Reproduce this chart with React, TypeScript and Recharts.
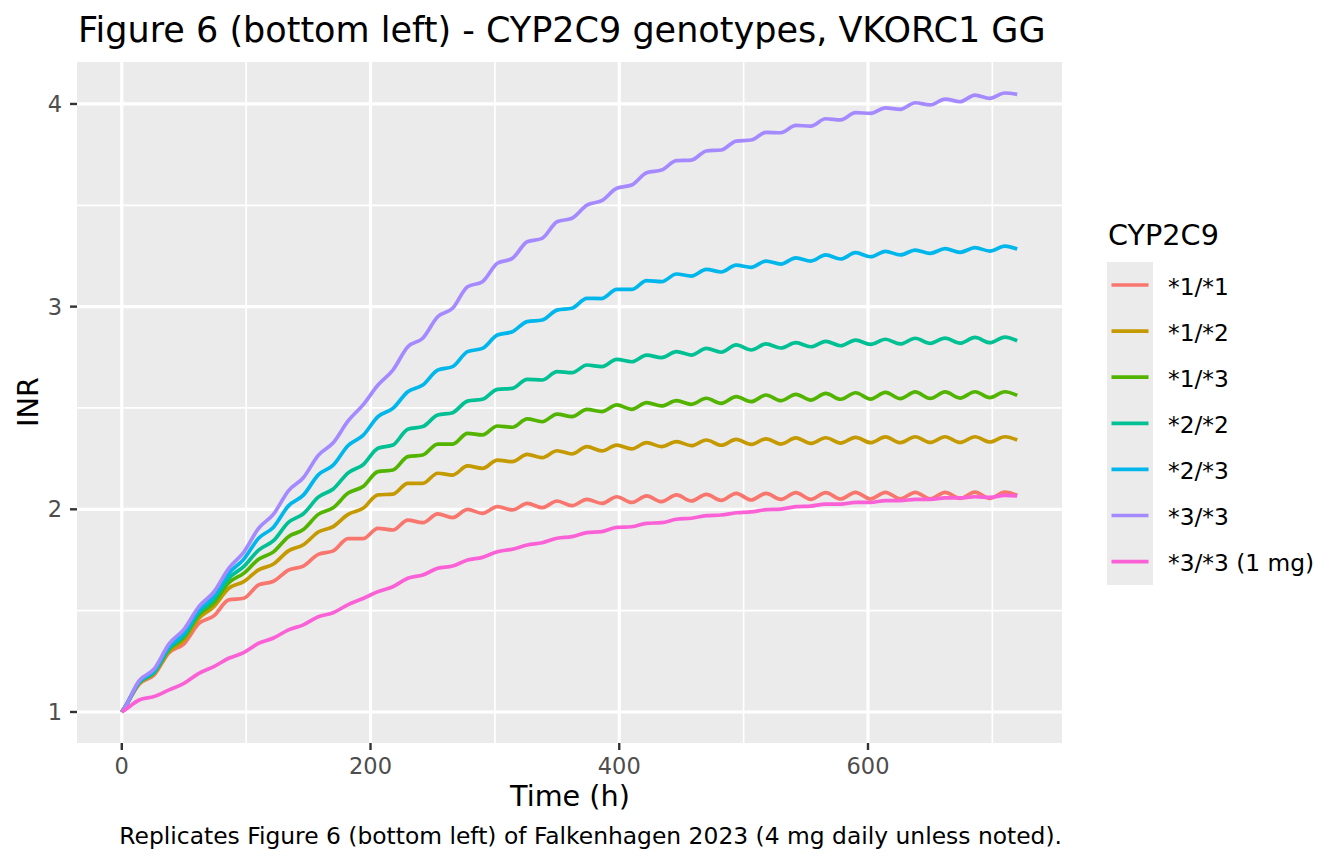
import React from 'react';
import { LineChart, Line, XAxis, YAxis, CartesianGrid } from 'recharts';

// sample times (h): start, then every 12 h (dose trough / mid-interval), end
const hours = [
  0, 2, 14, 26, 38, 50, 62, 74, 86, 98, 110, 122, 134, 146, 158, 170, 182, 194, 206, 218,
  230, 242, 254, 266, 278, 290, 302, 314, 326, 338, 350, 362, 374, 386, 398, 410, 422, 434, 446, 458,
  470, 482, 494, 506, 518, 530, 542, 554, 566, 578, 590, 602, 614, 626, 638, 650, 662, 674, 686, 698,
  710, 720,
];

const inr11 = [
  1.0, 1.018, 1.137, 1.183, 1.293, 1.336, 1.437, 1.474, 1.553, 1.561, 1.627, 1.645, 1.7, 1.72, 1.778, 1.795, 1.855, 1.855, 1.906, 1.898,
  1.947, 1.934, 1.977, 1.959, 2.0, 1.98, 2.013, 1.997, 2.029, 2.008, 2.041, 2.018, 2.049, 2.029, 2.062, 2.034, 2.066, 2.038, 2.071, 2.041,
  2.074, 2.044, 2.079, 2.046, 2.079, 2.049, 2.082, 2.049, 2.082, 2.051, 2.084, 2.051, 2.084, 2.052, 2.084, 2.052, 2.084, 2.054, 2.085, 2.054,
  2.085, 2.069,
];

const inr12 = [
  1.0, 1.018, 1.141, 1.191, 1.298, 1.355, 1.462, 1.52, 1.61, 1.643, 1.701, 1.73, 1.795, 1.825, 1.888, 1.915, 1.975, 2.005, 2.071, 2.075,
  2.128, 2.128, 2.178, 2.169, 2.214, 2.202, 2.243, 2.235, 2.271, 2.255, 2.289, 2.273, 2.309, 2.288, 2.317, 2.298, 2.329, 2.309, 2.334, 2.314,
  2.342, 2.316, 2.345, 2.32, 2.348, 2.322, 2.352, 2.325, 2.353, 2.327, 2.355, 2.329, 2.357, 2.329, 2.358, 2.33, 2.358, 2.33, 2.358, 2.332,
  2.358, 2.342,
];

const inr13 = [
  1.0, 1.018, 1.145, 1.194, 1.309, 1.368, 1.479, 1.539, 1.638, 1.684, 1.753, 1.79, 1.865, 1.9, 1.975, 2.008, 2.08, 2.112, 2.186, 2.194,
  2.26, 2.268, 2.322, 2.322, 2.375, 2.367, 2.411, 2.405, 2.446, 2.432, 2.47, 2.457, 2.493, 2.482, 2.515, 2.493, 2.526, 2.51, 2.536, 2.518,
  2.548, 2.523, 2.556, 2.531, 2.564, 2.536, 2.567, 2.539, 2.572, 2.543, 2.575, 2.544, 2.577, 2.546, 2.579, 2.547, 2.579, 2.549, 2.58, 2.551,
  2.58, 2.562,
];

const inr22 = [
  1.0, 1.018, 1.146, 1.197, 1.314, 1.377, 1.49, 1.556, 1.66, 1.717, 1.799, 1.845, 1.935, 1.978, 2.06, 2.1, 2.18, 2.22, 2.301, 2.317,
  2.395, 2.408, 2.465, 2.477, 2.534, 2.543, 2.592, 2.597, 2.641, 2.638, 2.679, 2.674, 2.712, 2.704, 2.74, 2.728, 2.761, 2.748, 2.778, 2.761,
  2.794, 2.775, 2.811, 2.786, 2.816, 2.796, 2.822, 2.802, 2.829, 2.807, 2.835, 2.814, 2.839, 2.816, 2.844, 2.819, 2.845, 2.82, 2.848, 2.822,
  2.85, 2.832,
];

const inr23 = [
  1.0, 1.018, 1.15, 1.202, 1.322, 1.388, 1.503, 1.572, 1.684, 1.753, 1.857, 1.912, 2.017, 2.07, 2.17, 2.218, 2.315, 2.365, 2.457, 2.498,
  2.58, 2.613, 2.687, 2.704, 2.778, 2.794, 2.86, 2.876, 2.926, 2.934, 2.983, 2.992, 3.041, 3.04, 3.085, 3.085, 3.128, 3.123, 3.161, 3.151,
  3.184, 3.171, 3.205, 3.194, 3.225, 3.21, 3.241, 3.225, 3.255, 3.235, 3.266, 3.246, 3.273, 3.255, 3.279, 3.263, 3.286, 3.268, 3.291, 3.274,
  3.299, 3.284,
];

const inr33 = [
  1.0, 1.018, 1.155, 1.212, 1.336, 1.408, 1.52, 1.592, 1.709, 1.788, 1.906, 1.976, 2.091, 2.156, 2.266, 2.328, 2.436, 2.515, 2.613, 2.687,
  2.802, 2.844, 2.95, 2.992, 3.098, 3.123, 3.214, 3.238, 3.32, 3.337, 3.419, 3.436, 3.501, 3.523, 3.584, 3.6, 3.661, 3.674, 3.72, 3.723,
  3.768, 3.773, 3.817, 3.822, 3.86, 3.858, 3.894, 3.891, 3.927, 3.921, 3.957, 3.954, 3.981, 3.973, 4.006, 3.995, 4.024, 4.011, 4.044, 4.028,
  4.054, 4.047,
];

const inr33low = [
  1.0, 1.008, 1.059, 1.076, 1.109, 1.141, 1.191, 1.224, 1.265, 1.293, 1.339, 1.365, 1.405, 1.43, 1.47, 1.49, 1.53, 1.56, 1.594, 1.618,
  1.66, 1.676, 1.709, 1.72, 1.75, 1.763, 1.791, 1.803, 1.824, 1.835, 1.857, 1.865, 1.885, 1.89, 1.911, 1.914, 1.931, 1.934, 1.951, 1.956,
  1.969, 1.972, 1.983, 1.987, 1.998, 2.001, 2.013, 2.016, 2.026, 2.026, 2.034, 2.034, 2.043, 2.043, 2.049, 2.049, 2.056, 2.056, 2.062, 2.059,
  2.069, 2.066,
];

const genotypes = ['*1/*1', '*1/*2', '*1/*3', '*2/*2', '*2/*3', '*3/*3', '*3/*3 (1 mg)'];
const seriesKeys = ['g11', 'g12', 'g13', 'g22', 'g23', 'g33', 'g33low'];
const seriesValues = [inr11, inr12, inr13, inr22, inr23, inr33, inr33low];
const colors = ['#F8766D', '#C49A00', '#53B400', '#00C094', '#00B6EB', '#A58AFF', '#FB61D7'];

const xTicks = [0, 200, 400, 600];
const xMinor = [100, 300, 500, 700];
const yTicks = [1, 2, 3, 4];
const yMinor = [1.5, 2.5, 3.5];

const rows = hours.map((t, i) => {
  const row: Record<string, number> = { t };
  seriesKeys.forEach((k, j) => {
    row[k] = seriesValues[j][i];
  });
  return row;
});

const FONT = '"DejaVu Sans", Verdana, sans-serif';
const W = 1344;
const H = 864;

export default function App() {
  const tickStyle = { fill: '#4D4D4D', fontSize: 22.5, fontFamily: FONT };
  return (
    <div style={{ position: 'absolute', left: 0, top: 0, width: W, height: H, background: '#fff' }}>
      <LineChart
        width={W}
        height={H}
        data={rows}
        margin={{ top: 62, right: 282, bottom: 71, left: 7 }}
      >
        <CartesianGrid
          fill="#EBEBEB"
          stroke="#FFFFFF"
          strokeWidth={1.7}
          horizontalValues={yMinor}
          verticalValues={xMinor}
        />
        <CartesianGrid
          stroke="#FFFFFF"
          strokeWidth={3.2}
          horizontalValues={yTicks}
          verticalValues={xTicks}
        />
        <XAxis
          type="number"
          dataKey="t"
          domain={[-36, 756]}
          ticks={xTicks}
          height={50}
          axisLine={false}
          tickSize={7}
          tickMargin={8}
          tickLine={{ stroke: '#333333', strokeWidth: 2.4 }}
          tick={tickStyle}
          allowDataOverflow
        />
        <YAxis
          type="number"
          domain={[0.847, 4.207]}
          ticks={yTicks}
          width={70}
          axisLine={false}
          tickSize={7}
          tickMargin={8}
          tickLine={{ stroke: '#333333', strokeWidth: 2.4 }}
          tick={tickStyle}
          allowDataOverflow
        />
        {seriesKeys.map((k, j) => (
          <Line
            key={k}
            type="monotone"
            dataKey={k}
            name={genotypes[j]}
            stroke={colors[j]}
            strokeWidth={3.7}
            dot={false}
            activeDot={false}
            isAnimationActive={false}
          />
        ))}
      </LineChart>

      <svg
        width={W}
        height={H}
        style={{ position: 'absolute', left: 0, top: 0, pointerEvents: 'none' }}
        fontFamily={FONT}
      >
        <text x={78} y={42} fontSize={35} fill="#000">
          Figure 6 (bottom left) - CYP2C9 genotypes, VKORC1 GG
        </text>
        <text x={570} y={806} fontSize={28.7} fill="#000" textAnchor="middle">
          Time (h)
        </text>
        <text
          x={0}
          y={0}
          fontSize={28.7}
          fill="#000"
          textAnchor="middle"
          transform="translate(38 402) rotate(-90)"
        >
          INR
        </text>
        <text x={1062} y={844} fontSize={23.4} fill="#000" textAnchor="end">
          Replicates Figure 6 (bottom left) of Falkenhagen 2023 (4 mg daily unless noted).
        </text>

        <text x={1108} y={245} fontSize={28.7} fill="#000">
          CYP2C9
        </text>
        <rect x={1107} y={262} width={46} height={323} fill="#EBEBEB" />
        {genotypes.map((g, j) => {
          const cy = 285 + j * 46.1;
          return (
            <g key={g}>
              <line x1={1111.5} x2={1148.5} y1={cy} y2={cy} stroke={colors[j]} strokeWidth={3.7} />
              <text x={1168} y={cy + 9.5} fontSize={23.3} fill="#000">
                {g}
              </text>
            </g>
          );
        })}
      </svg>
    </div>
  );
}
